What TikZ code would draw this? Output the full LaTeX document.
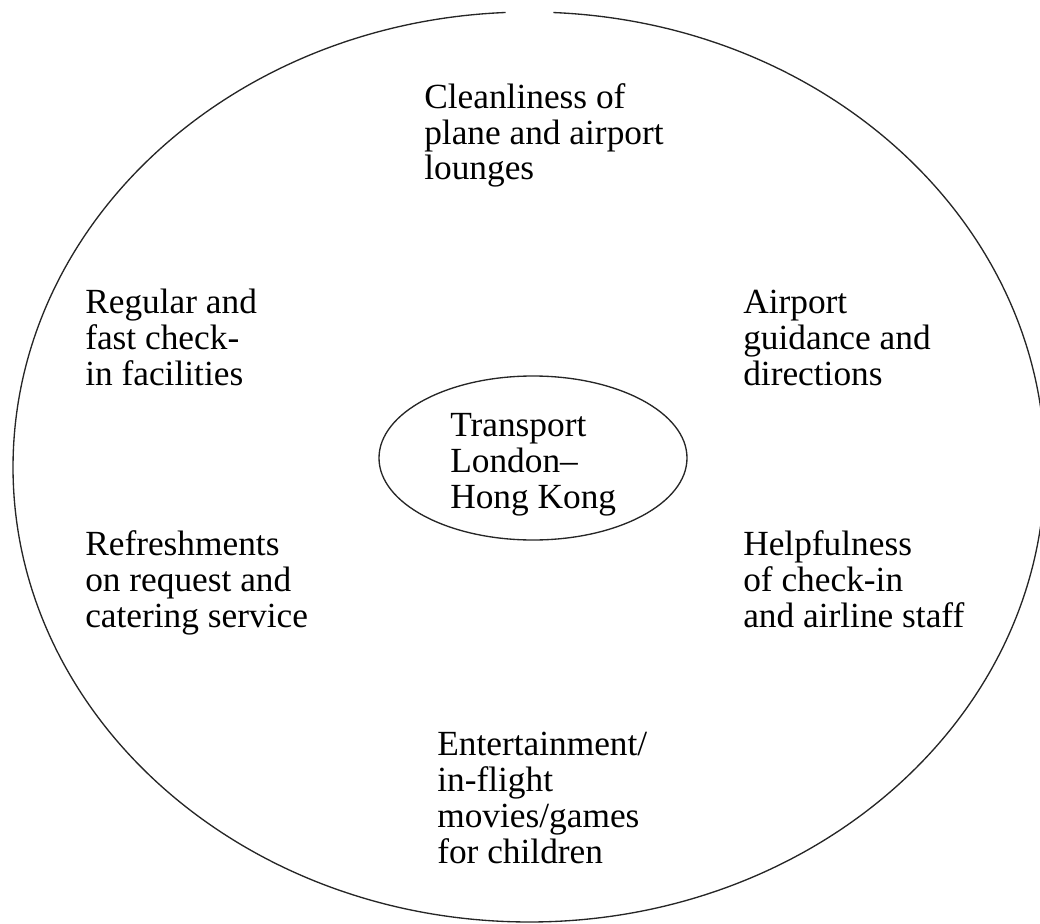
\documentclass[tikz,border=0pt]{standalone}
\usepackage{fontspec}
\setmainfont{Liberation Serif}
\usetikzlibrary{positioning}
\tikzset{
  item/.style={anchor=base west, align=left, inner sep=0pt,
    font=\fontsize{26.5}{26.8}\selectfont},
  rim/.style={line width=1pt, black!85},
}
\begin{document}
\begin{tikzpicture}[x=0.75pt, y=-0.75pt]
  \useasboundingbox (0,0) rectangle (1040,924);
  % outer ring, open at the top
  \draw[rim] (529,467) ++(272.7:516 and 455)
    arc[start angle=272.7, end angle=627.4, x radius=516, y radius=455];
  % inner ring
  \draw[rim] (533,458) ellipse [x radius=154, y radius=82];
  % node positions are given at the baseline of the last line
  \node[item] (core) at (450,508) {Transport\\London--\\Hong Kong};
  % surrounding factors
  \node[item] (clean) at (424,180) {Cleanliness of\\plane and airport\\lounges};
  \node[item] (checkin) at (85,385) {Regular and\\fast check-\\in facilities};
  \node[item] (guide) at (743,385) {Airport\\guidance and\\directions};
  \node[item] (food) at (85,627) {Refreshments\\on request and\\catering service};
  \node[item] (staff) at (743,627) {Helpfulness\\of check-in\\and airline staff};
  \node[item] (fun) at (437,863) {Entertainment/\\in-flight\\movies/games\\for children};
\end{tikzpicture}
\end{document}
